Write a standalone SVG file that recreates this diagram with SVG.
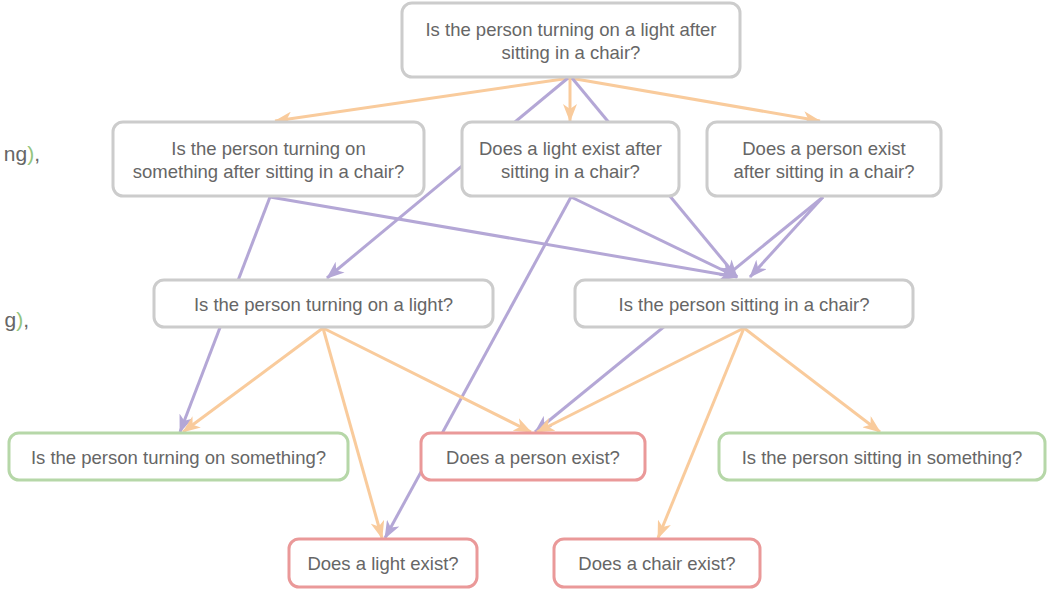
<svg xmlns="http://www.w3.org/2000/svg" width="1048" height="592" viewBox="0 0 1048 592">
<style>
  .node rect { fill: #ffffff; stroke: #cccccc; stroke-width: 3; }
  .node.green rect { stroke: #b6d7a8; }
  .node.red rect { stroke: #ea9999; }
  text { font-family: "Liberation Sans", Arial, sans-serif; font-size: 18.5px; fill: #666666; text-anchor: middle; }
  .frag { font-size: 21px; text-anchor: end; }
  .paren { fill: #93c47d; }
  .eo { stroke: #f9cb9c; stroke-width: 3; fill: none; marker-end: url(#ao); }
  .ep { stroke: #b4a7d6; stroke-width: 3; fill: none; marker-end: url(#ap); }
</style>
<defs>
  <marker id="ao" viewBox="0 0 18 14" refX="17" refY="7" markerWidth="18" markerHeight="14" markerUnits="userSpaceOnUse" orient="auto">
    <path d="M0,0 L18,7 L0,14 L5,7 z" fill="#f9cb9c"/>
  </marker>
  <marker id="ap" viewBox="0 0 18 14" refX="17" refY="7" markerWidth="18" markerHeight="14" markerUnits="userSpaceOnUse" orient="auto">
    <path d="M0,0 L18,7 L0,14 L5,7 z" fill="#b4a7d6"/>
  </marker>
</defs>
<rect width="1048" height="592" fill="#ffffff"/>
<text class="frag" x="40" y="161">ng<tspan class="paren">)</tspan>,</text>
<text class="frag" x="29" y="327">g<tspan class="paren">)</tspan>,</text>
<g id="connectors">
  <line class="eo" x1="570" y1="78" x2="275" y2="121"/>
  <line class="eo" x1="570" y1="78" x2="570" y2="121"/>
  <line class="eo" x1="570" y1="78" x2="820" y2="121"/>
  <line class="ep" x1="568" y1="78" x2="327" y2="278"/>
  <line class="ep" x1="572" y1="78" x2="737" y2="277"/>
  <line class="ep" x1="270" y1="197" x2="737" y2="277"/>
  <line class="ep" x1="270" y1="197" x2="180" y2="432"/>
  <line class="ep" x1="571" y1="197" x2="385" y2="538"/>
  <line class="ep" x1="571" y1="197" x2="737" y2="277"/>
  <line class="ep" x1="823" y1="197" x2="750" y2="277"/>
  <line class="ep" x1="823" y1="197" x2="535" y2="432"/>
  <line class="eo" x1="323" y1="328" x2="183" y2="432"/>
  <line class="eo" x1="323" y1="328" x2="382" y2="538"/>
  <line class="eo" x1="323" y1="328" x2="531" y2="432"/>
  <line class="eo" x1="744" y1="328" x2="537" y2="432"/>
  <line class="eo" x1="744" y1="328" x2="658" y2="538"/>
  <line class="eo" x1="744" y1="328" x2="880" y2="432"/>
</g>
<g id="n-top" class="node">
  <rect x="402" y="3" width="338" height="74" rx="10"/>
  <text x="571" y="35.5">Is the person turning on a light after</text>
  <text x="571" y="58.5">sitting in a chair?</text>
</g>
<g id="n-a" class="node">
  <rect x="113" y="122" width="311" height="74" rx="10"/>
  <text x="268.5" y="154.5">Is the person turning on</text>
  <text x="268.5" y="177.5">something after sitting in a chair?</text>
</g>
<g id="n-b" class="node">
  <rect x="462" y="122" width="217" height="74" rx="10"/>
  <text x="570.5" y="154.5">Does a light exist after</text>
  <text x="570.5" y="177.5">sitting in a chair?</text>
</g>
<g id="n-c" class="node">
  <rect x="707" y="122" width="234" height="74" rx="10"/>
  <text x="824" y="154.5">Does a person exist</text>
  <text x="824" y="177.5">after sitting in a chair?</text>
</g>
<g id="n-d" class="node">
  <rect x="154" y="280" width="339" height="47" rx="10"/>
  <text x="323.5" y="310.5">Is the person turning on a light?</text>
</g>
<g id="n-e" class="node">
  <rect x="575" y="280" width="338" height="47" rx="10"/>
  <text x="744" y="310.5">Is the person sitting in a chair?</text>
</g>
<g id="n-f" class="node green">
  <rect x="9" y="433" width="339" height="47" rx="10"/>
  <text x="178.5" y="463.5">Is the person turning on something?</text>
</g>
<g id="n-g" class="node red">
  <rect x="421" y="433" width="224" height="47" rx="10"/>
  <text x="533" y="463.5">Does a person exist?</text>
</g>
<g id="n-h" class="node green">
  <rect x="719" y="433" width="326" height="47" rx="10"/>
  <text x="882" y="463.5">Is the person sitting in something?</text>
</g>
<g id="n-i" class="node red">
  <rect x="289" y="539" width="188" height="48" rx="10"/>
  <text x="383" y="569.5">Does a light exist?</text>
</g>
<g id="n-j" class="node red">
  <rect x="554" y="539" width="206" height="48" rx="10"/>
  <text x="657" y="569.5">Does a chair exist?</text>
</g>
</svg>
